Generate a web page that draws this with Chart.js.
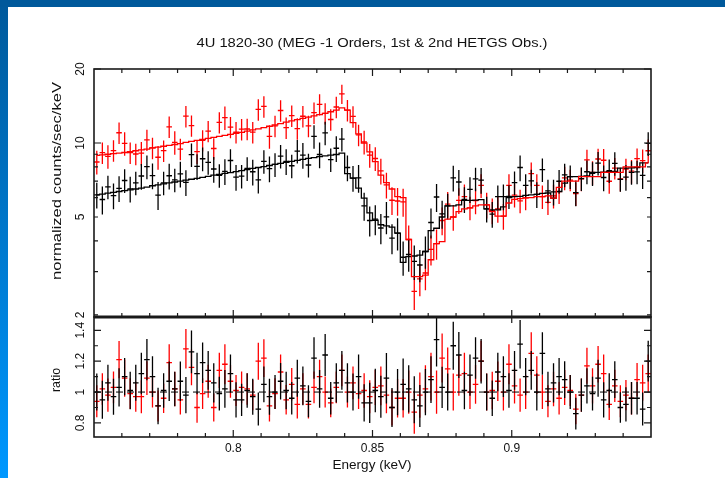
<!DOCTYPE html>
<html>
<head>
<meta charset="utf-8">
<title>4U 1820-30 MEG -1 orders</title>
<script src="https://cdn.jsdelivr.net/npm/chart.js@4.4.1/dist/chart.umd.min.js"></script>
<style>
  html, body {
    margin: 0;
    padding: 0;
    background: #fff;
  }

  #page {
    position: relative;
    width: 725px;
    height: 478px;
    overflow: hidden;
    background: #fff;
  }

  .band-left {
    position: absolute;
    left: 0;
    top: 0;
    width: 8px;
    height: 478px;
    background: linear-gradient(#00599b, #0098ff);
  }

  .band-top {
    position: absolute;
    left: 0;
    top: 0;
    width: 725px;
    height: 7px;
    background: #00599b;
  }

  canvas {
    position: absolute;
    left: 0;
    top: 0;
  }
</style>
</head>
<body>
<div id="page">
  <div class="band-left"></div>
  <div class="band-top"></div>
  <canvas id="ratio" width="725" height="478"></canvas>
  <canvas id="spectrum" width="725" height="478"></canvas>
</div>
<script>
// bin centres (keV), bins are 0.002 keV wide
const energy = [
  0.751, 0.753, 0.755, 0.757, 0.759, 0.761, 0.763, 0.765, 0.767, 0.769,
  0.771, 0.773, 0.775, 0.777, 0.779, 0.781, 0.783, 0.785, 0.787, 0.789,
  0.791, 0.793, 0.795, 0.797, 0.799, 0.801, 0.803, 0.805, 0.807, 0.809,
  0.811, 0.813, 0.815, 0.817, 0.819, 0.821, 0.823, 0.825, 0.827, 0.829,
  0.831, 0.833, 0.835, 0.837, 0.839, 0.841, 0.843, 0.845, 0.847, 0.849,
  0.851, 0.853, 0.855, 0.857, 0.859, 0.861, 0.863, 0.865, 0.867, 0.869,
  0.871, 0.873, 0.875, 0.877, 0.879, 0.881, 0.883, 0.885, 0.887, 0.889,
  0.891, 0.893, 0.895, 0.897, 0.899, 0.901, 0.903, 0.905, 0.907, 0.909,
  0.911, 0.913, 0.915, 0.917, 0.919, 0.921, 0.923, 0.925, 0.927, 0.929,
  0.931, 0.933, 0.935, 0.937, 0.939, 0.941, 0.943, 0.945, 0.947, 0.949,
];
const binWidth = 0.002;

// 1st observation (black): folded model, data, relative errors, ratio
const modelFirst = [
  6.15, 6.2, 6.25, 6.3, 6.35, 6.4, 6.45, 6.5, 6.55, 6.62,
  6.7, 6.75, 6.82, 6.88, 6.94, 7.0, 7.06, 7.12, 7.18, 7.25,
  7.32, 7.4, 7.46, 7.52, 7.58, 7.65, 7.72, 7.8, 7.88, 7.95,
  8.02, 8.1, 8.18, 8.26, 8.34, 8.42, 8.5, 8.58, 8.66, 8.72,
  8.8, 8.86, 8.92, 8.98, 9.1, 7.5, 7.2, 6.55, 5.97, 5.2,
  4.85, 4.65, 4.6, 4.55, 4.3, 3.27, 3.45, 3.47, 3.5, 3.62,
  4.4, 4.5, 5.0, 5.55, 5.55, 5.6, 5.84, 5.84, 5.86, 5.88,
  5.4, 5.35, 5.35, 5.5, 6.0, 6.05, 6.07, 6.12, 6.15, 6.18,
  6.24, 6.26, 5.97, 6.35, 6.87, 7.3, 7.3, 7.32, 7.35, 7.6,
  7.6, 7.62, 7.64, 7.66, 7.9, 7.9, 7.92, 7.95, 8.3, 8.3,
];
const countsFirst = [
  6.15, 5.89, 6.63, 6.11, 6.54, 7.04, 6.51, 6.89, 7.34, 8.01,
  7.37, 6.14, 6.89, 7.36, 7.08, 7.49, 6.92, 8.97, 8.04, 8.63,
  8.34, 7.84, 7.39, 7.67, 8.49, 7.27, 7.33, 7.88, 7.64, 7.08,
  8.42, 7.86, 8.18, 8.84, 8.42, 8.08, 9.27, 8.92, 8.14, 10.64,
  8.98, 10.99, 8.56, 9.52, 10.37, 7.95, 7.2, 7.21, 5.55, 4.84,
  4.9, 4.51, 5.01, 4.1, 4.3, 3.43, 3.52, 3.3, 3.19, 3.62,
  4.75, 6.03, 5.15, 5.55, 7.22, 6.94, 5.9, 6.48, 7.15, 7.06,
  5.4, 5.14, 6.05, 6.05, 6.06, 6.9, 7.95, 6.73, 7.01, 6.18,
  7.8, 6.39, 6.33, 6.99, 7.42, 7.3, 6.28, 7.17, 7.64, 7.52,
  8.28, 7.24, 7.72, 8.27, 7.11, 7.27, 7.6, 7.63, 7.39, 9.96,
];
const errFirst = [
  0.12, 0.13, 0.11, 0.12, 0.12, 0.11, 0.12, 0.11, 0.12, 0.11,
  0.12, 0.13, 0.11, 0.12, 0.11, 0.12, 0.12, 0.11, 0.12, 0.11,
  0.11, 0.12, 0.11, 0.12, 0.11, 0.12, 0.11, 0.11, 0.12, 0.12,
  0.11, 0.12, 0.11, 0.11, 0.12, 0.11, 0.11, 0.12, 0.11, 0.11,
  0.12, 0.11, 0.11, 0.12, 0.11, 0.12, 0.12, 0.13, 0.13, 0.14,
  0.14, 0.14, 0.15, 0.14, 0.15, 0.16, 0.15, 0.16, 0.15, 0.15,
  0.14, 0.13, 0.13, 0.12, 0.12, 0.12, 0.12, 0.12, 0.11, 0.12,
  0.12, 0.12, 0.11, 0.12, 0.11, 0.11, 0.12, 0.11, 0.11, 0.12,
  0.11, 0.11, 0.12, 0.11, 0.11, 0.11, 0.12, 0.11, 0.11, 0.11,
  0.11, 0.12, 0.11, 0.11, 0.11, 0.12, 0.11, 0.11, 0.12, 0.11,
];
const ratioFirst = [
  1.0, 0.95, 1.06, 0.97, 1.03, 1.1, 1.01, 1.06, 1.12, 1.21,
  1.1, 0.91, 1.01, 1.07, 1.02, 1.07, 0.98, 1.26, 1.12, 1.19,
  1.14, 1.06, 0.99, 1.02, 1.12, 0.95, 0.95, 1.01, 0.97, 0.89,
  1.05, 0.97, 1.0, 1.07, 1.01, 0.96, 1.09, 1.04, 0.94, 1.22,
  1.02, 1.24, 0.96, 1.06, 1.14, 1.06, 1.0, 1.1, 0.93, 0.93,
  1.01, 0.97, 1.09, 0.9, 1.0, 1.05, 1.02, 0.95, 0.91, 1.0,
  1.08, 1.34, 1.03, 1.0, 1.3, 1.24, 1.01, 1.11, 1.22, 1.2,
  1.0, 0.96, 1.13, 1.1, 1.01, 1.14, 1.31, 1.1, 1.14, 1.0,
  1.25, 1.02, 1.06, 1.1, 1.08, 1.0, 0.86, 0.98, 1.04, 0.99,
  1.09, 0.95, 1.01, 1.08, 0.9, 0.92, 0.96, 0.96, 0.89, 1.2,
];

// 2nd observation (red)
const modelSecond = [
  8.9, 8.95, 9.0, 9.05, 9.1, 9.15, 9.22, 9.3, 9.38, 9.45,
  9.55, 9.62, 9.7, 9.78, 9.86, 9.95, 10.05, 10.15, 10.25, 10.35,
  10.45, 10.55, 10.65, 10.75, 10.85, 10.95, 11.05, 11.18, 11.3, 11.42,
  11.55, 11.7, 11.85, 12.0, 12.15, 12.3, 12.45, 12.6, 12.75, 12.9,
  13.05, 13.2, 13.4, 13.6, 13.9, 13.6, 12.1, 10.9, 10.0, 9.2,
  8.4, 7.4, 6.9, 6.5, 6.05, 6.0, 4.05, 2.86, 2.86, 2.9,
  3.35, 3.9, 3.97, 4.9, 5.0, 5.26, 5.4, 5.45, 5.55, 5.6,
  5.6, 5.26, 5.04, 5.04, 5.7, 5.9, 5.94, 5.98, 6.0, 6.05,
  6.05, 6.1, 5.97, 6.6, 7.0, 7.0, 7.0, 7.3, 7.3, 7.3,
  7.3, 7.6, 7.6, 7.6, 7.6, 8.0, 8.0, 8.0, 8.0, 8.3,
];
const countsSecond = [
  8.37, 9.13, 8.82, 9.32, 11.01, 9.97, 9.13, 9.02, 9.1, 10.3,
  9.55, 8.75, 9.31, 11.64, 10.06, 9.45, 12.86, 11.77, 9.23, 10.25,
  11.18, 9.5, 12.14, 12.69, 11.61, 11.06, 11.38, 11.4, 11.07, 13.7,
  14.09, 10.65, 11.73, 13.56, 11.54, 12.92, 11.45, 12.85, 11.73, 13.29,
  14.36, 13.2, 12.46, 14.01, 15.85, 13.6, 12.83, 10.79, 10.1, 8.92,
  8.65, 7.7, 6.76, 5.85, 5.81, 5.76, 4.05, 2.49, 2.8, 2.96,
  3.69, 3.9, 4.84, 5.64, 5.0, 5.84, 6.05, 5.45, 5.83, 6.72,
  5.6, 5.31, 5.39, 5.04, 6.73, 6.14, 5.82, 5.98, 7.5, 6.72,
  6.05, 5.73, 6.09, 6.34, 7.21, 7.07, 6.23, 7.15, 8.54, 7.59,
  8.61, 8.51, 6.99, 7.9, 7.14, 7.84, 7.68, 8.64, 8.48, 9.3,
];
const errSecond = [
  0.11, 0.1, 0.11, 0.1, 0.1, 0.11, 0.1, 0.1, 0.11, 0.1,
  0.1, 0.11, 0.1, 0.1, 0.11, 0.1, 0.1, 0.1, 0.11, 0.1,
  0.1, 0.1, 0.1, 0.11, 0.1, 0.1, 0.1, 0.1, 0.1, 0.1,
  0.1, 0.11, 0.1, 0.1, 0.1, 0.1, 0.1, 0.1, 0.1, 0.1,
  0.1, 0.1, 0.1, 0.1, 0.09, 0.1, 0.1, 0.1, 0.11, 0.11,
  0.11, 0.12, 0.12, 0.13, 0.13, 0.13, 0.14, 0.16, 0.15, 0.15,
  0.14, 0.14, 0.13, 0.12, 0.12, 0.12, 0.12, 0.11, 0.12, 0.11,
  0.12, 0.12, 0.12, 0.12, 0.11, 0.11, 0.11, 0.11, 0.11, 0.11,
  0.11, 0.11, 0.11, 0.11, 0.11, 0.1, 0.11, 0.11, 0.1, 0.11,
  0.1, 0.11, 0.11, 0.1, 0.11, 0.1, 0.11, 0.1, 0.11, 0.11,
];
const ratioSecond = [
  0.94, 1.02, 0.98, 1.03, 1.21, 1.09, 0.99, 0.97, 0.97, 1.09,
  1.0, 0.91, 0.96, 1.19, 1.02, 0.95, 1.28, 1.16, 0.9, 0.99,
  1.07, 0.9, 1.14, 1.18, 1.07, 1.01, 1.03, 1.02, 0.98, 1.2,
  1.22, 0.91, 0.99, 1.13, 0.95, 1.05, 0.92, 1.02, 0.92, 1.03,
  1.1, 1.0, 0.93, 1.03, 1.14, 1.0, 1.06, 0.99, 1.01, 0.97,
  1.03, 1.04, 0.98, 0.9, 0.96, 0.96, 1.0, 0.87, 0.98, 1.02,
  1.1, 1.0, 1.22, 1.15, 1.0, 1.11, 1.12, 1.0, 1.05, 1.2,
  1.0, 1.01, 1.07, 1.0, 1.18, 1.04, 0.98, 1.0, 1.25, 1.11,
  1.0, 0.94, 1.02, 0.96, 1.03, 1.01, 0.89, 0.98, 1.17, 1.04,
  1.18, 1.12, 0.92, 1.04, 0.94, 0.98, 0.96, 1.08, 1.06, 1.12,
];

// axes
const xLabelValues = [0.8, 0.85, 0.9];
const xLabels = ["0.8", "0.85", "0.9"];
const xMinorTicks = [
  0.76, 0.77, 0.78, 0.79, 0.81, 0.82, 0.83, 0.84, 0.86, 0.87,
  0.88, 0.89, 0.91, 0.92, 0.93, 0.94,
];
const countsLabelValues = [2, 5, 10, 20];
const countsLabels = ["2", "5", "10", "20"];
const countsMajorTicks = [10, 20];
const countsMinorTicks = [2, 3, 4, 5, 6, 7, 8, 9];
const ratioLabelValues = [0.8, 1, 1.2, 1.4];
const ratioLabels = ["0.8", "1", "1.2", "1.4"];
const ratioMinorTicks = [0.9, 1.1, 1.3];

const titleText = "4U 1820-30 (MEG -1 Orders, 1st & 2nd HETGS Obs.)";
const countsTitle = "normalized counts/sec/keV";
const ratioTitle = "ratio";
const energyTitle = "Energy (keV)";

const BLACK = "#000000";
const RED = "#ff0000";
const FRAME = "#1a1a1a";
const TEXT = "#111111";
const FONT = "12px 'Liberation Sans', Arial, sans-serif";

const points = (xs, ys) => xs.map((x, i) => ({ x, y: ys[i] }));

// crosses: horizontal bar over the bin, vertical bar over the error
const crossesPlugin = {
  id: "crosses",
  beforeDatasetsDraw(chart) {

    const { ctx, chartArea: area, scales: { x, y } } = chart;
    ctx.save();
    ctx.beginPath();
    ctx.rect(area.left, area.top, area.width, area.height);
    ctx.clip();
    ctx.lineWidth = 1.3;

    chart.data.datasets.forEach(dataset => {
      if (!dataset.errors) return;

      ctx.strokeStyle = dataset.crossColor;
      ctx.beginPath();
      dataset.data.forEach((point, index) => {
        const sigma = dataset.errors[index] * point.y;
        const px = x.getPixelForValue(point.x);
        const py = y.getPixelForValue(point.y);
        ctx.moveTo(x.getPixelForValue(point.x - binWidth / 2), py);
        ctx.lineTo(x.getPixelForValue(point.x + binWidth / 2), py);
        ctx.moveTo(px, y.getPixelForValue(point.y - sigma));
        ctx.lineTo(px, y.getPixelForValue(point.y + sigma));
      });
      ctx.stroke();
    });

    ctx.restore();
  },
};

function drawText(ctx, text, x, y, { rotate = false, width } = {}) {

  ctx.save();
  ctx.translate(x, y);
  if (rotate) ctx.rotate(-Math.PI / 2);
  if (width) ctx.scale(width / ctx.measureText(text).width, 1);
  ctx.fillText(text, 0, 0);
  ctx.restore();
}

function tickX(ctx, px, fromY, length) {

  ctx.moveTo(px, fromY);
  ctx.lineTo(px, fromY + length);
}

function tickY(ctx, py, fromX, length) {

  ctx.moveTo(fromX, py);
  ctx.lineTo(fromX + length, py);
}

function drawFrame(ctx, area) {

  ctx.strokeStyle = FRAME;
  ctx.lineWidth = 1.6;
  ctx.strokeRect(area.left, area.top, area.width, area.height);
}

function textStyle(ctx) {

  ctx.fillStyle = TEXT;
  ctx.font = FONT;
  ctx.textAlign = "center";
  ctx.textBaseline = "middle";
}

const spectrumAxesPlugin = {
  id: "spectrumAxes",
  afterDraw(chart) {

    const { ctx, chartArea: area, scales: { x, y } } = chart;
    ctx.save();
    drawFrame(ctx, area);

    ctx.lineWidth = 1.2;
    ctx.beginPath();
    xMinorTicks.forEach(v => {
      const px = x.getPixelForValue(v);
      tickX(ctx, px, area.top, 4);
      tickX(ctx, px, area.bottom, -4);
    });
    xLabelValues.forEach(v => {
      const px = x.getPixelForValue(v);
      tickX(ctx, px, area.top, 7);
      tickX(ctx, px, area.bottom, -7);
    });
    countsMinorTicks.forEach(v => {
      const py = y.getPixelForValue(v);
      tickY(ctx, py, area.left, 4);
      tickY(ctx, py, area.right, -4);
    });
    countsMajorTicks.forEach(v => {
      const py = y.getPixelForValue(v);
      tickY(ctx, py, area.left, 7);
      tickY(ctx, py, area.right, -7);
    });
    ctx.stroke();

    textStyle(ctx);
    countsLabelValues.forEach((v, i) => {
      drawText(ctx, countsLabels[i], 81, y.getPixelForValue(v), { rotate: true });
    });
    drawText(ctx, countsTitle, 58, 181, { rotate: true, width: 198 });
    drawText(ctx, titleText, 372, 44, { width: 351 });

    ctx.restore();
  },
};

const ratioAxesPlugin = {
  id: "ratioAxes",
  beforeDatasetsDraw(chart) {

    const { ctx, chartArea: area, scales: { y } } = chart;
    const py = y.getPixelForValue(1);
    ctx.save();
    ctx.strokeStyle = BLACK;
    ctx.lineWidth = 1;
    ctx.setLineDash([7, 4]);
    ctx.beginPath();
    ctx.moveTo(area.left, py);
    ctx.lineTo(area.right, py);
    ctx.stroke();
    ctx.restore();
  },
  afterDraw(chart) {

    const { ctx, chartArea: area, scales: { x, y } } = chart;
    ctx.save();
    drawFrame(ctx, area);

    // the heavy rule shared with the spectrum panel
    ctx.lineWidth = 2.8;
    ctx.beginPath();
    ctx.moveTo(area.left, area.top);
    ctx.lineTo(area.right, area.top);
    ctx.stroke();

    ctx.lineWidth = 1.2;
    ctx.beginPath();
    xMinorTicks.forEach(v => tickX(ctx, x.getPixelForValue(v), area.bottom, -4));
    xLabelValues.forEach(v => {
      const px = x.getPixelForValue(v);
      tickX(ctx, px, area.bottom, -7);
      tickX(ctx, px, area.top, 6);
    });
    ratioMinorTicks.forEach(v => {
      const py = y.getPixelForValue(v);
      tickY(ctx, py, area.left, 4);
      tickY(ctx, py, area.right, -4);
    });
    ratioLabelValues.forEach(v => {
      const py = y.getPixelForValue(v);
      tickY(ctx, py, area.left, 7);
      tickY(ctx, py, area.right, -7);
    });
    ctx.stroke();

    textStyle(ctx);
    ratioLabelValues.forEach((v, i) => {
      drawText(ctx, ratioLabels[i], 81, y.getPixelForValue(v), { rotate: true });
    });
    xLabelValues.forEach((v, i) => {
      drawText(ctx, xLabels[i], x.getPixelForValue(v), 449);
    });
    drawText(ctx, ratioTitle, 57, 380, { rotate: true, width: 24 });
    drawText(ctx, energyTitle, 372, 466, { width: 79 });

    ctx.restore();
  },
};

function modelDataset(label, model, color) {

  return {
    label,
    data: points(energy, model),
    stepped: "middle",
    borderColor: color,
    borderWidth: 1.3,
    pointRadius: 0,
    fill: false,
  };
}

function crossDataset(label, values, errors, color) {

  return {
    label,
    data: points(energy, values),
    errors,
    crossColor: color,
    showLine: false,
    pointRadius: 0,
  };
}

function baseOptions(padding, yScale) {

  return {
    responsive: false,
    animation: false,
    events: [],
    layout: { padding },
    plugins: {
      legend: { display: false },
      tooltip: { enabled: false },
    },
    scales: {
      x: { type: "linear", min: 0.75, max: 0.95, display: false },
      y: { ...yScale, display: false },
    },
  };
}

new Chart(document.getElementById("spectrum"), {
  type: "line",
  data: {
    datasets: [
      modelDataset("model 2nd obs.", modelSecond, RED),
      modelDataset("model 1st obs.", modelFirst, BLACK),
      crossDataset("2nd obs.", countsSecond, errSecond, RED),
      crossDataset("1st obs.", countsFirst, errFirst, BLACK),
    ],
  },
  options: baseOptions(
    { left: 94, right: 74, top: 69, bottom: 161 },
    { type: "logarithmic", min: 1.96, max: 20 }
  ),
  plugins: [crossesPlugin, spectrumAxesPlugin],
});

new Chart(document.getElementById("ratio"), {
  type: "line",
  data: {
    datasets: [
      crossDataset("2nd obs. ratio", ratioSecond, errSecond, RED),
      crossDataset("1st obs. ratio", ratioFirst, errFirst, BLACK),
    ],
  },
  options: baseOptions(
    { left: 94, right: 74, top: 317, bottom: 41 },
    { type: "linear", min: 0.709, max: 1.486 }
  ),
  plugins: [crossesPlugin, ratioAxesPlugin],
});
</script>
</body>
</html>
